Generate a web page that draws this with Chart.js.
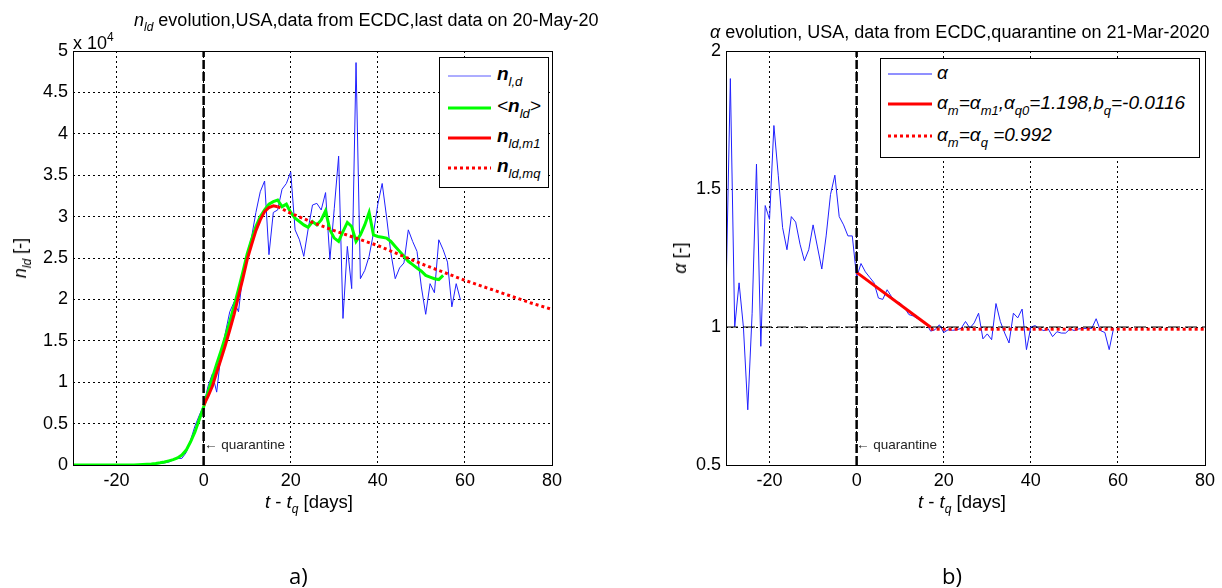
<!DOCTYPE html>
<html>
<head>
<meta charset="utf-8">
<script src="https://cdn.jsdelivr.net/npm/chart.js@4.4.1/dist/chart.umd.min.js"></script>
<style>
  body { margin: 0; background: #fff; width: 1222px; height: 588px; overflow: hidden; position: relative;
         font-family: "Liberation Sans", Arial, sans-serif; color: #000; }
  canvas { position: absolute; top: 0; }
  .t { position: absolute; white-space: nowrap; font-size: 18px; line-height: 1; }
  .t sub { font-size: 12px; vertical-align: -5px; font-style: italic; }
  .t sup { font-size: 12px; vertical-align: 8px; }
  .rot { transform: translate(-50%, -50%) rotate(-90deg); }
  .q { font-size: 13.5px; color: #222; }
  .leg { position: absolute; border: 1px solid #000; background: #fff; }
  .leg svg { position: absolute; left: 0; top: 0; }
  .leg .e { position: absolute; white-space: nowrap; font-size: 19px; font-style: italic; line-height: 1; }
  .leg .e sub { font-size: 13px; vertical-align: -6px; }
  .cap { position: absolute; font-family: "Open Sans", sans-serif; font-size: 22px; }
</style>
</head>
<body>
<canvas id="chartA" width="611" height="588" style="left:0"></canvas>
<canvas id="chartB" width="611" height="588" style="left:611px"></canvas>

<div class="t" style="left:134px;top:11px"><i>n</i><sub>ld</sub> evolution,USA,data from ECDC,last data on 20-May-20</div>
<div class="t" style="left:73px;top:31px">x 10<sup>4</sup></div>
<div class="t rot" style="left:22px;top:258px"><i>n</i><sub>ld</sub> [-]</div>
<div class="t" style="left:265px;top:493px;font-size:18.5px"><i>t</i> - <i>t</i><sub>q</sub> [days]</div>
<div class="t q" style="left:204px;top:438px">&larr; quarantine</div>

<div class="t" style="left:710px;top:23px"><i>&alpha;</i> evolution, USA, data from ECDC,quarantine on 21-Mar-2020</div>
<div class="t rot" style="left:680px;top:258px"><i>&alpha;</i> [-]</div>
<div class="t" style="left:918px;top:493px;font-size:18.5px"><i>t</i> - <i>t</i><sub>q</sub> [days]</div>
<div class="t q" style="left:856px;top:438px">&larr; quarantine</div>

<div class="leg" style="left:439px;top:57px;width:108px;height:129px">
  <svg width="108" height="129">
    <line x1="8" y1="18" x2="51" y2="18" stroke="#5a5aff" stroke-width="1"/>
    <line x1="8" y1="50" x2="51" y2="50" stroke="#00ff00" stroke-width="3"/>
    <line x1="8" y1="80" x2="51" y2="80" stroke="#ff0000" stroke-width="3"/>
    <line x1="8" y1="110" x2="51" y2="110" stroke="#ff0000" stroke-width="3" stroke-dasharray="3,3"/>
  </svg>
  <div class="e" style="left:57px;top:6px"><b>n</b><sub>l,d</sub></div>
  <div class="e" style="left:57px;top:38px">&lt;<b>n</b><sub>ld</sub>&gt;</div>
  <div class="e" style="left:57px;top:68px"><b>n</b><sub>ld,m1</sub></div>
  <div class="e" style="left:57px;top:98px"><b>n</b><sub>ld,mq</sub></div>
</div>

<div class="leg" style="left:880px;top:58px;width:318px;height:98px">
  <svg width="318" height="98">
    <line x1="7" y1="15" x2="51" y2="15" stroke="#2020ff" stroke-width="1"/>
    <line x1="7" y1="45" x2="51" y2="45" stroke="#ff0000" stroke-width="3"/>
    <line x1="7" y1="77" x2="51" y2="77" stroke="#ff0000" stroke-width="3" stroke-dasharray="3,3"/>
  </svg>
  <div class="e" style="left:56px;top:4px">&alpha;</div>
  <div class="e" style="left:56px;top:34px">&alpha;<sub>m</sub>=&alpha;<sub>m1</sub>,&alpha;<sub>q0</sub>=1.198,b<sub>q</sub>=-0.0116</div>
  <div class="e" style="left:56px;top:66px">&alpha;<sub>m</sub>=&alpha;<sub>q</sub> =0.992</div>
</div>

<div class="cap" style="left:289px;top:560px">a)</div>
<div class="cap" style="left:942px;top:560px">b)</div>

<script>
// ---- panel a: daily new infected n_ld ----
const daysNld = [-30,-29,-28,-27,-26,-25,-24,-23,-22,-21,-20,-19,-18,-17,-16,-15,-14,-13,-12,-11,-10,-9,-8,-7,-6,-5,-4,-3,-2,-1,
  0,1,2,3,4,5,6,7,8,9,10,11,12,13,14,15,16,17,18,19,20,21,22,23,24,25,26,27,28,29,
  30,31,32,33,34,35,36,37,38,39,40,41,42,43,44,45,46,47,48,49,50,51,52,53,54,55,56,57,58,59];
const nld = [0,0,0,0,0,0,0,0,0,0,0,0,0,0,10,20,30,50,80,120,180,250,350,600,800,800,1500,3000,4700,6000,
  7200,9500,11000,8800,13500,16000,18500,19700,18500,23000,25500,27500,30500,33000,34300,25400,30500,30800,33300,34000,
  35400,28400,27200,25200,28500,31400,31600,30800,32900,24800,31000,37300,17700,26400,21300,48600,22500,23500,25200,28000,
  31500,34000,30000,25600,22500,23800,24400,28400,27000,25800,21500,18200,21900,20800,27200,26000,24500,19100,21900,19900];

const daysAvg = [-30,-29,-28,-27,-26,-25,-24,-23,-22,-21,-20,-19,-18,-17,-16,-15,-14,-13,-12,-11,-10,-9,-8,-7,-6,-5,-4,-3,-2,-1,
  0,1,2,3,4,5,6,7,8,9,10,11,12,13,14,15,16,17,18,19,20,21,22,23,24,25,26,27,28,29,
  30,31,32,33,34,35,36,37,38,39,40,41,42,43,44,45,46,47,48,49,50,51,52,53,54,55];
const nldAvg = [0,0,0,0,0,0,0,0,0,0,0,0,0,0,10,30,50,80,120,180,260,360,500,650,850,1200,1800,2800,4000,5500,
  7000,8800,10500,12200,13800,15500,17300,19200,21200,23300,25500,27200,28800,30000,30800,31500,31800,32000,31200,31500,
  30500,29800,29400,29000,28700,29400,29000,29600,30700,28400,27400,27000,28200,29300,28800,27000,27800,29000,30500,27800,
  27600,27500,27400,27000,26400,25800,25200,24600,24200,23800,23400,22900,22700,22500,22400,22900];

const daysM1 = [0,1,2,3,4,5,6,7,8,9,10,11,12,13,14,15,16,17];
const nldM1 = [7200,8300,9500,11200,12800,14500,16300,18200,20400,22500,24800,26600,28300,29600,30600,31100,31300,31200];

const daysMq = [17,20,25,30,35,40,45,50,55,60,65,70,75,80];
const nldMq = [31200,30400,29300,28300,27400,26500,25400,24300,23300,22300,21400,20500,19600,18800];

const nTicks = [0,5000,10000,15000,20000,25000,30000,35000,40000,45000,50000];
const xTicks = [-20,0,20,40,60,80];
const quarantineDay = 0;

// ---- panel b: alpha ----
const daysAlpha = daysNld.slice();
const alpha = [1.12,1.90,1.00,1.16,1.00,0.70,1.05,1.59,0.93,1.44,1.39,1.73,1.55,1.36,1.28,1.40,1.38,1.30,1.24,1.28,
  1.37,1.29,1.21,1.33,1.48,1.55,1.40,1.37,1.33,1.33,
  1.18,1.23,1.20,1.18,1.16,1.105,1.10,1.135,1.11,1.093,1.087,1.07,1.045,1.04,1.03,1.02,1.012,0.985,0.99,1.008,
  0.98,0.99,0.988,0.99,0.995,1.02,0.996,1.015,1.05,0.957,0.975,0.954,1.085,1.02,0.978,0.942,1.05,1.033,1.065,0.918,
  1.0,1.005,0.993,0.987,0.993,0.965,0.983,0.978,0.978,0.993,0.987,0.993,0.995,0.995,0.995,1.03,0.987,0.98,0.918,0.995];
const daysAm1 = [0,17];
const alphaM1 = [1.198,0.999];
const daysAq = [17,80];
const alphaQ = [0.992,0.992];
const alphaRef = [1,1];
const alphaTicks = [0.5,1,1.5,2];

const pts = (xs, ys) => xs.map((x, i) => ({ x: x, y: ys[i] }));

const boxPlugin = {
  id: "box",
  afterDraw(chart) {
    const a = chart.chartArea;
    const ctx = chart.ctx;
    ctx.save();
    ctx.strokeStyle = "#000";
    ctx.lineWidth = 1;
    ctx.strokeRect(Math.round(a.left) + 0.5, Math.round(a.top) + 0.5,
      Math.round(a.right - a.left), Math.round(a.bottom - a.top));
    ctx.restore();
  }
};

const tickFont = { family: "Liberation Sans", size: 18 };

function line(data, color, width, dash, order) {
  return { data: data, borderColor: color, borderWidth: width, borderDash: dash || [],
           pointRadius: 0, fill: false, tension: 0, order: order };
}

function baseOptions(yMin, yMax, yTicks, yWidth, yFmt, pad) {
  return {
    responsive: false,
    animation: false,
    events: [],
    layout: { padding: pad },
    plugins: { legend: { display: false }, tooltip: { enabled: false } },
    scales: {
      x: {
        type: "linear", min: -30, max: 80,
        afterBuildTicks: s => { s.ticks = xTicks.map(v => ({ value: v })); },
        afterFit: s => { s.height = 40; },
        grid: { color: "#000", lineWidth: 1, drawTicks: false },
        border: { display: false, dash: [2, 3] },
        ticks: { color: "#000", font: tickFont, padding: 5, maxRotation: 0, autoSkip: false }
      },
      y: {
        type: "linear", min: yMin, max: yMax,
        afterBuildTicks: s => { s.ticks = yTicks.map(v => ({ value: v })); },
        afterFit: s => { s.width = yWidth; },
        grid: { color: "#000", lineWidth: 1, drawTicks: false },
        border: { display: false, dash: [2, 3] },
        ticks: { color: "#000", font: tickFont, padding: 5, callback: yFmt }
      }
    }
  };
}

new Chart(document.getElementById("chartA"), {
  type: "line",
  data: {
    datasets: [
      line(pts([quarantineDay, quarantineDay], [0, 50000]), "#000", 2.5, [9, 3], 0),
      line(pts(daysMq, nldMq), "#ff0000", 3, [3, 3], 1),
      line(pts(daysM1, nldM1), "#ff0000", 3, [], 2),
      line(pts(daysAvg, nldAvg), "#00ff00", 3, [], 3),
      line(pts(daysNld, nld), "#2020ff", 1, [], 4)
    ]
  },
  options: baseOptions(0, 50000, nTicks, 73, v => String(v / 10000),
    { left: 0, top: 51, right: 59, bottom: 83 }),
  plugins: [boxPlugin]
});

new Chart(document.getElementById("chartB"), {
  type: "line",
  data: {
    datasets: [
      line(pts([quarantineDay, quarantineDay], [0.5, 2]), "#000", 2.5, [9, 3], 0),
      line(pts(daysAq, alphaQ), "#ff0000", 3, [3, 3], 1),
      line(pts(daysAm1, alphaM1), "#ff0000", 3, [], 2),
      line(pts([-30, 80], alphaRef), "#000", 1, [12, 5], 3),
      line(pts(daysAlpha, alpha), "#2020ff", 1, [], 4)
    ]
  },
  options: baseOptions(0.5, 2, alphaTicks, 115, v => String(v),
    { left: 0, top: 51, right: 17, bottom: 83 }),
  plugins: [boxPlugin]
});
</script>
</body>
</html>
